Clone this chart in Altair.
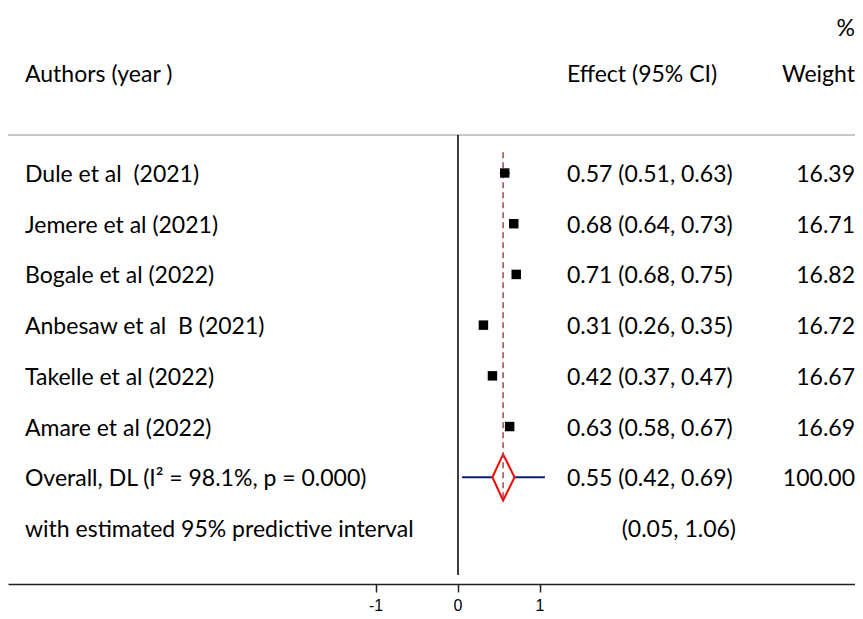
import altair as alt
import pandas as pd

# ---- data ----
studies = ["Dule et al\u00a0 (2021)", "Jemere et al (2021)", "Bogale et al (2022)",
           "Anbesaw et al\u00a0 B (2021)", "Takelle et al (2022)", "Amare et al (2022)"]
effect = [0.57, 0.68, 0.71, 0.31, 0.42, 0.63]
ci_lo = [0.51, 0.64, 0.68, 0.26, 0.37, 0.58]
ci_hi = [0.63, 0.73, 0.75, 0.35, 0.47, 0.67]
weight = [16.39, 16.71, 16.82, 16.72, 16.67, 16.69]
overall_est = 0.55
overall_ci = [0.42, 0.69]
pred_int = [0.05, 1.06]
i2 = 98.1
p_val = 0.000
x_ticks = [-1, 0, 1]
headers = ["Authors (year )", "Effect (95% CI)", "Weight", "%"]

# ---- layout (pixels inside chart) ----
W, H = 847, 576
X0PIX, PPU = 450, 82.0          # pixel of x=0, pixels per unit
ROW1PIX, STEP = 165, 50.71      # pixel of first row, row spacing


def r(pix):
    return 1 + (pix - ROW1PIX) / STEP


xs = alt.Scale(domain=[-X0PIX / PPU, (W - X0PIX) / PPU], nice=False, zero=False)
ys = alt.Scale(domain=[r(0), r(H)], nice=False, zero=False, reverse=True)

AX = alt.Axis(values=x_ticks, title=None, grid=False, labels=False,
              domainColor="#222", domainWidth=1.5, tickColor="#222", tickWidth=1.5, tickSize=8)

n = len(studies)
rows = list(range(1, n + 1))
ov_row = n + 1
pi_row = n + 2

df = pd.DataFrame({
    "row": rows, "study": studies, "eff": effect, "lo": ci_lo, "hi": ci_hi,
    "w": weight,
    "efftxt": [f"{e:.2f} ({l:.2f}, {h:.2f})" for e, l, h in zip(effect, ci_lo, ci_hi)],
    "wtxt": [f"{w:.2f}" for w in weight],
})

left_txt = pd.DataFrame({
    "row": rows + [ov_row, pi_row],
    "t": studies + [f"Overall, DL (I\u00b2 = {i2:.1f}%, p = {p_val:.3f})",
                    "with estimated 95% predictive interval"],
})
eff_txt = pd.DataFrame({
    "row": rows + [ov_row],
    "t": list(df["efftxt"]) + [f"{overall_est:.2f} ({overall_ci[0]:.2f}, {overall_ci[1]:.2f})"],
})
pi_txt = pd.DataFrame({"row": [pi_row], "t": [f"({pred_int[0]:.2f}, {pred_int[1]:.2f})"]})
w_txt = pd.DataFrame({"row": rows + [ov_row], "t": list(df["wtxt"]) + ["100.00"]})
tick_df = pd.DataFrame({"x": x_ticks, "t": [str(v) for v in x_ticks]})

FONT = "Lato"
FS = 23


def X(field):
    return alt.X(f"{field}:Q", scale=xs, axis=AX)


def Y(field):
    return alt.Y(f"{field}:Q", scale=ys, axis=None)


# gray separator line
sep = alt.Chart(pd.DataFrame({"x": [xs.domain[0]], "x2": [xs.domain[1]], "row": [r(127)]})).mark_rule(
    color="#c8c8c8", strokeWidth=2).encode(x=X("x"), x2="x2:Q", y=Y("row"))

# vertical line at zero
vline = alt.Chart(pd.DataFrame({"x": [0], "r1": [r(127)], "r2": [r(567)]})).mark_rule(
    color="black", strokeWidth=1.5).encode(x=X("x"), y=Y("r1"), y2="r2:Q")

# dashed overall line
dline = alt.Chart(pd.DataFrame({"x": [overall_est], "r1": [1 - 0.41], "r2": [ov_row + 0.46]})).mark_rule(
    color="#9c4a52", strokeWidth=1.5, strokeDash=[6, 4]).encode(x=X("x"), y=Y("r1"), y2="r2:Q")

# CI lines
ci = alt.Chart(df).mark_rule(color="black", strokeWidth=1.5).encode(
    x=X("lo"), x2="hi:Q", y=Y("row"))

# squares
sq = alt.Chart(df).mark_square(color="black", opacity=1, filled=True).encode(
    x=X("eff"), y=Y("row"),
    size=alt.Size("w:Q", scale=alt.Scale(domain=[0, 16.8], range=[0, 90]), legend=None))

# predictive interval segments
pi_df = pd.DataFrame({"x": [pred_int[0], overall_ci[1]], "x2": [overall_ci[0], pred_int[1]],
                      "row": [ov_row, ov_row]})
pil = alt.Chart(pi_df).mark_rule(color="#0a1a7a", strokeWidth=2).encode(
    x=X("x"), x2="x2:Q", y=Y("row"))

# diamond
hh = 0.455
dia_df = pd.DataFrame({
    "x": [overall_ci[0], overall_est, overall_ci[1], overall_est, overall_ci[0]],
    "row": [ov_row, ov_row - hh, ov_row, ov_row + hh, ov_row],
    "o": [0, 1, 2, 3, 4],
})
dia = alt.Chart(dia_df).mark_line(color="red", strokeWidth=2).encode(
    x=X("x"), y=Y("row"), order="o:Q")

# tick labels drawn through the x scale
tick_lbl = alt.Chart(tick_df).mark_text(font="Liberation Sans", fontSize=16, baseline="middle",
                                        align="center", color="black").encode(
    x=X("x"), y=alt.value(H + 22), text="t:N")


# texts
def txt(data, xpix, align):
    return alt.Chart(data).mark_text(font=FONT, fontSize=FS, align=align, baseline="middle",
                                     dy=2, color="black").encode(
        x=alt.value(xpix), y=Y("row"), text="t:N")


t_left = txt(left_txt, 17, "left")
t_eff = txt(eff_txt, 559, "left")
t_pi = txt(pi_txt, 728, "right")
t_w = txt(w_txt, 847, "right")

hdr_pos = [(17, "left", 65), (559, "left", 65), (847, "right", 65), (847, "right", 19)]
hdr_layers = [txt(pd.DataFrame({"row": [r(py)], "t": [h]}), px, al)
              for h, (px, al, py) in zip(headers, hdr_pos)]

chart = alt.layer(sep, vline, ci, pil, dia, dline, sq, tick_lbl,
                  t_left, t_eff, t_pi, t_w, *hdr_layers).properties(
    width=W, height=H,
    background="white",
    padding={"left": 0, "top": 0, "right": 0, "bottom": 32},
    autosize=alt.AutoSizeParams(type="none"),
).configure_view(stroke=None)

chart.save("out.html", embed_options={"renderer": "svg", "actions": False})
